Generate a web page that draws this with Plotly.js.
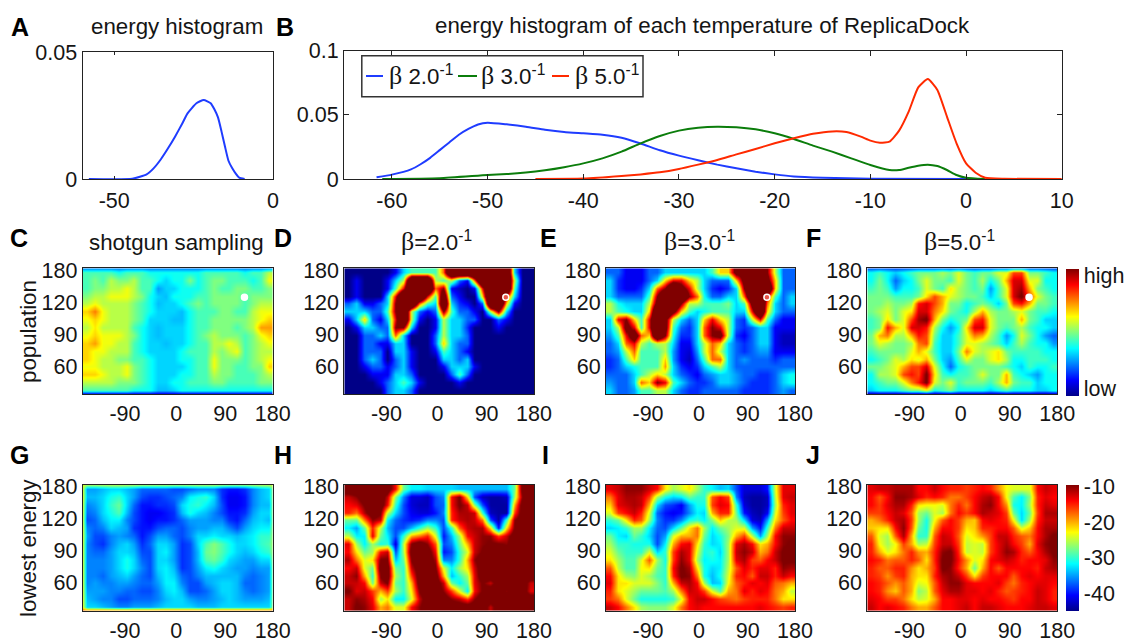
<!DOCTYPE html>
<html><head><meta charset="utf-8">
<script src="https://cdn.plot.ly/plotly-3.0.1.min.js"></script>
<style>html,body{margin:0;padding:0;background:#fff}</style></head>
<body><div id="chart" style="width:1126px;height:639px"></div>
<script>
const histA_x=[-58,-44.3,-39.8,-37.6,-35.3,-33,-30.8,-28.6,-26.9,-24.1,-21.8,-19.6,-18.4,-17.3,-16.2,-15.1,-14,-12.8,-11.7,-10.6,-8.9];
const histA_y=[0,.0001,.0018,.0042,.0078,.0122,.0168,.0218,.0259,.0299,.0312,.0299,.0274,.0243,.0188,.0128,.0072,.0042,.0021,.0005,0];
const beta2_x=[-61.6,-60,-58,-57,-56,-55,-54,-53,-52,-51,-50,-48,-46,-44,-42,-40,-38,-36,-34,-32,-30,-28,-26,-24,-22,-20,-18,-15,-10,0];
const beta2_y=[.0013,.0034,.0075,.0115,.0165,.0225,.0285,.0345,.039,.0425,.0439,.0426,.0408,.0384,.0366,.0356,.0345,.0322,.0277,.0224,.0182,.0146,.0112,.0083,.0057,.0036,.002,.001,.0002,0];
const beta3_x=[-61,-55,-50,-48,-46,-44,-42,-40,-38,-36,-34,-32,-30,-28,-26,-24,-22,-20,-18,-16,-14,-12,-10,-8,-7,-6,-5,-4,-3,-2,-1,0,2];
const beta3_y=[0,.0006,.0031,.0038,.005,.0068,.0092,.0122,.0161,.0213,.0278,.0335,.0377,.04,.0408,.0403,.0387,.0356,.0312,.026,.0213,.0161,.0109,.007,.007,.0088,.0104,.0112,.0101,.007,.0031,.001,0];
const beta5_x=[-45,-40,-36,-34,-32,-30,-28,-26,-24,-22,-20,-18,-16,-14,-12.5,-11,-10,-9,-8,-7,-6,-5,-4,-3,-2,-1,0,1,2,4,10];
const beta5_y=[0,.0003,.0023,.0036,.0052,.0078,.0112,.0148,.0192,.0234,.0278,.0317,.0352,.0371,.0366,.033,.0299,.0283,.0291,.0377,.0525,.0714,.0779,.0694,.0486,.0278,.0122,.0049,.001,.0002,0];

const gridX=[-181,-172.5,-157.5,-142.5,-127.5,-112.5,-97.5,-82.5,-67.5,-52.5,-37.5,-22.5,-7.5,7.5,22.5,37.5,52.5,67.5,82.5,97.5,112.5,127.5,142.5,157.5,172.5,181];
const gridY=[33.5,37.4,44.8,52.2,59.6,67,74.4,81.8,89.2,96.5,103.9,111.3,118.7,126.1,133.5,140.9,148.3,152.5];
const popTicksX=[-100,-3,90,180], popTickText=['-90','0','90','180'];
const lonTicksY=[60,90,120,150], lonTickText=['60','90','120','180'];
const marker_x=[126.5], marker_y=[124.8];

const popC=[
[4,4,4,4,3.5,4,4,4,3.5,3.5,3.5,3.5,3.5,3.5,3.5,4,4,4,4,4,3.5,4,4,5],
[4,4.5,4,5,4.5,4.5,5,4,4,3.5,3,3.5,3.5,4.5,3.5,4,4.5,4.5,4,4,4,3.5,4,5.5],
[4,4.5,4.5,5,5,5.5,5,4,4,2.5,3,3,3.5,3.5,3.5,4,4.5,4,4,4.5,4.5,4,4,4.5],
[4.5,5,5,5.5,5.5,5.5,5,4.5,3.5,3,2.8,3.5,3.5,3.5,4,4,4.5,4.5,4.5,4.5,4,4.5,4.5,4.5],
[5,5.5,5,5,5,5,4.5,4,3.5,2.8,3,3,3.5,4,4.5,4,4.5,4.5,4.5,4.5,4,4.5,5,5],
[6,6.8,5.5,5,5,5,4.5,4,3.5,3,3,3,2.8,3.5,4,4,4,4.5,4.5,4,4,5,5.5,5.5],
[5.5,6,5.5,5,5,5,4.5,4,3,3,3,2.8,2.8,3.5,4,4,4.5,4.5,4.5,4.5,4.5,5,5.5,6],
[5,5.8,5,5,5,5,4,3.5,3,2.8,3,3,3,3.5,4,4,4.5,4.5,4.5,4,4.5,5,6.5,6.5],
[5.5,6,5.5,5.5,5.5,5,4.5,3.5,3,2.8,3,3,3,3.5,4,4.5,5,4.5,4.5,4.5,4,4.5,5.5,6],
[6,6.5,5.5,5.5,5,5,4,3.5,3,3,2.8,3,3,3.5,4,4,5,5,5.5,5,4,4.5,5,5.5],
[6,5.5,5.5,5,5,5,4,3.5,3,3,3,3,3.5,4,4,4,5,4.5,5,5.5,4,4.5,5,5],
[6,5.5,5,5,4.5,4.5,4,4,3.5,3,3,3,3.5,3.5,4,4,5.5,4.5,4.5,4.5,4,4.5,5,5.5],
[5.5,5.5,5,5,5,5.5,4.5,4,3.5,3,3,3,3,3.5,4,4,5.5,4.5,4.5,4,4,4.5,4.5,6],
[6,6,5.5,5,5,5.5,4.5,4,3.5,3,3,3,3.5,3.5,4,4,5,4.5,4.5,4,4,4,4.5,5],
[5,5,5,5,4.5,4.5,4.5,4,3.5,3,3,3.5,3.5,4,4,4,4.5,4.5,4,4,4,4,4.5,4.5],
[4,4,4,4,4,4,3.5,3.5,3.5,2.8,2.8,3,3.5,3.5,3.5,3.5,3.5,3.5,3.5,3.5,3.5,3.5,3.5,3.5]];
const popD=[
[0,0,0,0,0,0,1,3,4,4,4,4,7,14,14,14,14,14,14,14,14,3,0,0],
[0,1,0,0,0,1,3,5,14,14,14,5,4,5,2,1,7,14,14,14,14,5,0,0],
[0,1,0,0,0,1,4,8,14,14,14,7,9,1,.5,0,1,8,14,14,14,4,0,0],
[0,1,0,0,0,3,8,14,14,14,8,4,12,2,1,0,0,6,14,14,8,3,0,0],
[2,3,1,1,2,3,9,14,14,7,4,3,14,3,1.5,1,0,2,14,14,6,1,0,0],
[3,3,3,2,2,4,9,14,5,2,1,2,9,4,2,2,1,0,5,9,3,0,0,0],
[1,3,6,2,1,3,8,14,5,1,0,1,5,3,3,2,2,0,0,2,1,0,0,0],
[0,1,3,3,2,2,9,9,3,0,0,1,5,3,3,1.5,0,0,0,1,0,0,0,0],
[0,0,2,2,3,2,7,3,0,0,0,2,5,3,3,2,0,0,0,0,0,0,0,0],
[0,0,2,2,1,1,3,3,0,0,0,2,6,3,2,2,0,0,0,0,0,0,0,0],
[0,0,2,2,2,0,3,3,1,0,0,1,4,3,2,1,0,0,0,0,0,0,0,0],
[0,0,2,3,2,0,2,3,1,0,0,0,3,3,2,3,0,0,0,0,0,0,0,0],
[0,0,1,2,2,1,2,3,1,0,0,0,1,3,3,3,1,0,0,0,0,0,0,0],
[0,0,0,1,1,1,3,3,2,0,0,0,0,2,4,2,0,0,0,0,0,0,0,0],
[0,0,0,0,1,2,3,4,3,1,0,0,0,0,1,0,0,0,0,0,0,0,0,0],
[0,0,0,0,0,2,3,3,2,0,0,0,0,0,0,0,0,0,0,0,0,0,0,0]];
const popE=[
[2,2,1,1,1,2,2,3,3,3,3,3,3,4,6,6,10,10,10,10,9,5,2,2],
[3,1.5,1,1,1,2,3,6,8,8,6,5,3,2,2,2,6,10,10,10,10,6,2,2],
[3,1.5,1,1,1.5,3,7,9,13,10,8,5,3,1.5,1,1.5,3,9,13,13,13,6,2,2],
[3,2,2,2,2,4,9,13,13,13,9,7,3.5,2,2,3,3,7,13,13,8,4,2,3],
[5,3.5,3,3,3,5,10,13,13,9,5,5,4,4,4,4.5,3,4,10,13,7,3,2,3],
[5,4,3.5,3,3,6,13,13,10,6,4,3,3.5,4,4,4,3,3,8,13,6,3,2,2],
[3,8,9,6,4,8,13,10,5,3,2,3,6,8,6,5,2,1.5,5,8,4,2,1,1],
[3,5,10,8,4,8,13,10,4,2,1.5,3,7,9,8,5,2,1.5,2,3,3,1,1,1],
[2.5,4,8,11,7,6,13,9,3.5,1.5,1.5,3,7,9,10,5,1.5,1,2,3,3,1,.5,.5],
[2,3,7,8,5,4,5,5,3,1,1,3,5,7,6,3,2,1.5,2,3,3,1,.5,.5],
[2,2.5,5,7,4,4,4,5,2.5,1,.7,2.5,5,7,5,3,2,1.5,2,2.5,2.5,1,1,1],
[1.5,2,4,6,4,4,4,6,2.5,1,.5,2,4,7,7,3,2,2.5,2,2,2,1.5,2,2],
[1.5,2,3,3.5,4,4,4,6.5,3,1.5,1,1.5,3,4,5,3,2,2,2,2,2,2,2,2],
[2,2,2,3,4,5,6,5,3,2,1.5,1,2,2.5,3,3,2.5,2,2,1.5,1.5,2,3,3.5],
[2.5,2,2,3,7,6,9,8,4,3,2,1.5,1.5,2,3,3,2.5,2,1.5,1.5,1.5,2,3,3.5],
[3,2,2,2.5,4,4,5,5,3,2,1.5,1.5,2,2,2,2,2,1.5,1.5,1.5,1.5,2,2.5,2]];
const popF=[
[3,3.5,3,2.5,3,3.5,4,4,4,4.5,4,5,4,3.5,4,4,5,5,7,7,4,4,3.5,3],
[3,4,3,1.5,2.5,3,4,5,4,4,3.5,5,4,3.5,4.5,3,4,6,8,8,5,5,3,3],
[3.5,4,3.5,2,3,3,3.5,5,4,3.5,5.5,4.5,4,3.5,4,2,3.5,5,8,8.5,6,4,3.5,3],
[4,4,4,3.5,3.5,3.5,4,5.5,7,6,5,4.5,4,4,3.5,2.5,3.5,5,8,9,7,5,4,3.5],
[4,4,4.5,4,4,4.5,7.5,8,7,6,4,4,3,3.5,4,3.5,2.5,4,7,7.5,6,4,4,3.5],
[4,4.5,5,4,5,5.5,8,8,6.5,5.5,4,3.5,3,4.5,6,4.5,4,4,4.5,5,4,3.5,3.5,3],
[3.5,4,5.5,4,5,7,8.5,9,6,4,3,3.5,4,7,7.5,5,4,4,4,6,4,3.5,2.5,2.5],
[3.5,4,7.5,6,5,8,8,7.5,4.5,3,2,3,5.5,8,8,5,4,3.5,4,4.5,3.5,3,3,2.5],
[4,6,6.5,4.5,4.5,6,7.5,7,4,2.5,2.5,3.5,5,6.5,6,4.5,3.5,2,3,5,4,3,2,1.5],
[4,5,4.5,4,4,4.5,6.5,7,3.5,2.5,2.5,3.5,5,5,4.5,4,3.5,2.5,3.5,4.5,3.5,3,3,2],
[3.5,4,4,4,4,5,6,5,3.5,2.5,2.5,4,6.5,5,4.5,5,5.5,4,3.5,3.5,3.5,3.5,3,3],
[3,3.5,4,5,4.5,5.5,5,6,4,2.5,2,3.5,5,4,4,5,5.5,4.5,3,3,3.5,3.5,3.5,3],
[4,4,4.5,5,6,7,7,8,5,3,1.5,3,3.5,4,4,4,4,3.5,3,2.5,3.5,3,3,3.5],
[3,4.5,4.5,5,7,7.5,7,9,5.5,3.5,3,3.5,3.5,4,5,4,4,6,3.5,3,2.5,2,3,3],
[3,3.5,4,4,5,6.5,7.5,9,5,4,5,3.5,4,4,4,3.5,4.5,6,4,3.5,3.5,2.5,3,3],
[2.5,3,3,3,3.5,4,4,5,3,3.5,4,3,3,3,3,2.5,3,3.5,3,3,3,2.5,2.5,3]];
const energyG=[
[-35,-35,-34,-33,-33,-34,-35,-37,-37,-37,-37,-38,-38,-37,-36,-36,-36,-39,-40,-40,-39,-36,-34,-33],
[-34,-34,-33,-31,-30,-33,-35,-38,-39,-39,-38,-37,-36,-32,-31,-30,-33,-39,-41,-41,-40,-36,-34,-33],
[-36,-35,-33,-30,-28,-33,-37,-40,-40,-39,-39,-38,-33,-31,-30,-32,-34,-38,-41,-41,-40,-36,-34,-34],
[-37,-36,-33,-31,-29,-34,-38,-40,-41,-41,-40,-39,-34,-31,-33,-34,-36,-38,-40,-40,-39,-35,-33,-33],
[-38,-37,-34,-32,-32,-36,-38,-40,-41,-40,-40,-39,-37,-35,-35,-35,-36,-36,-39,-40,-37,-34,-33,-34],
[-36,-37,-36,-33,-34,-35,-39,-40,-40,-38,-37,-37,-38,-36,-35,-35,-34,-34,-36,-38,-35,-33,-32,-32],
[-35,-38,-38,-36,-35,-36,-37,-40,-38,-35,-35,-37,-38,-36,-33,-33,-32,-33,-33,-34,-33,-32,-30,-30],
[-36,-38,-39,-36,-34,-33,-35,-39,-37,-33,-33,-35,-39,-38,-33,-29,-27,-29,-31,-33,-33,-32,-30,-29],
[-36,-37,-37,-35,-33,-33,-34,-38,-38,-33,-32,-35,-39,-38,-34,-28,-27,-29,-31,-33,-34,-33,-31,-30],
[-36,-36,-36,-35,-33,-31,-33,-37,-38,-33,-33,-35,-39,-38,-34,-29,-28,-30,-33,-34,-35,-35,-33,-33],
[-36,-36,-36,-35,-33,-31,-33,-36,-38,-33,-32,-34,-39,-38,-35,-32,-31,-33,-34,-35,-35,-36,-35,-35],
[-36,-36,-37,-35,-34,-33,-35,-37,-38,-34,-32,-33,-37,-38,-36,-34,-34,-34,-34,-34,-36,-37,-36,-35],
[-36,-35,-36,-36,-35,-35,-36,-37,-37,-35,-32,-32,-36,-38,-38,-35,-34,-33,-33,-34,-37,-37,-36,-35],
[-35,-35,-35,-36,-36,-37,-37,-38,-38,-36,-33,-32,-34,-38,-38,-37,-35,-33,-33,-34,-36,-37,-36,-35],
[-34,-35,-36,-36,-38,-38,-37,-37,-37,-36,-34,-33,-33,-35,-36,-36,-35,-34,-33,-34,-35,-35,-35,-34],
[-33,-33,-34,-35,-36,-36,-35,-35,-35,-34,-33,-33,-33,-33,-34,-34,-34,-33,-33,-33,-33,-33,-33,-33]];
const energyH=[
[-6,-6,-6,-6,-6,-6,-14,-28,-32,-32,-33,-33,-33,-33,-34,-34,-34,-34,-34,-34,-34,-28,-6,-6],
[-12,-10,-6,-6,-6,-12,-27,-36,-42,-42,-43,-38,-36,-14,-9,-22,-38,-43,-44,-44,-43,-26,-9,-6],
[-14,-13,-9,-6,-6,-14,-30,-38,-42,-43,-43,-38,-37,-14,-9,-12,-27,-38,-44,-44,-44,-20,-6,-6],
[-15,-18,-11,-6,-9,-25,-33,-38,-41,-42,-42,-40,-36,-15,-11,-11,-12,-30,-43,-44,-44,-16,-6,-6],
[-28,-28,-18,-10,-12,-32,-37,-39,-40,-39,-36,-36,-38,-15,-12,-11,-12,-18,-38,-44,-30,-10,-6,-6],
[-32,-35,-28,-15,-25,-34,-38,-38,-34,-30,-26,-30,-38,-30,-17,-12,-11,-11,-22,-40,-22,-9,-6,-6],
[-25,-32,-32,-13,-28,-32,-38,-30,-20,-18,-15,-24,-40,-34,-26,-14,-12,-10,-10,-16,-12,-6,-6,-6],
[-13,-26,-32,-26,-31,-30,-42,-25,-9,-6,-10,-17,-38,-36,-28,-20,-12,-10,-9,-9,-10,-6,-6,-6],
[-14,-22,-28,-26,-14,-12,-38,-26,-6,-6,-6,-14,-40,-38,-30,-24,-12,-9,-6,-6,-6,-6,-6,-6],
[-11,-18,-24,-22,-9,-9,-34,-28,-9,-6,-6,-11,-36,-36,-30,-20,-10,-6,-6,-6,-6,-6,-6,-6],
[-14,-12,-24,-28,-6,-6,-28,-30,-12,-6,-6,-9,-24,-32,-26,-22,-12,-6,-6,-6,-6,-6,-6,-6],
[-12,-10,-20,-30,-9,-6,-26,-30,-16,-6,-6,-6,-20,-34,-30,-26,-13,-6,-6,-6,-6,-6,-6,-6],
[-12,-12,-14,-28,-12,-9,-28,-30,-20,-6,-6,-6,-12,-28,-32,-28,-13,-9,-12,-6,-6,-6,-6,-12],
[-9,-13,-12,-16,-20,-16,-26,-30,-22,-9,-6,-6,-10,-16,-24,-32,-14,-9,-6,-6,-10,-6,-6,-13],
[-12,-10,-11,-14,-26,-22,-32,-32,-24,-12,-6,-6,-6,-10,-12,-16,-10,-6,-6,-6,-6,-6,-6,-6],
[-12,-9,-10,-13,-20,-18,-24,-24,-14,-10,-6,-6,-6,-6,-6,-6,-6,-6,-12,-6,-6,-6,-6,-6]];
const energyI=[
[-13,-12,-10,-10,-10,-12,-14,-22,-26,-24,-22,-26,-30,-32,-34,-33,-38,-42,-42,-42,-40,-24,-13,-13],
[-18,-13,-11,-11,-12,-16,-26,-31,-33,-32,-28,-30,-30,-17,-14,-16,-36,-43,-44,-44,-43,-25,-13,-12],
[-21,-13,-12,-11,-12,-20,-33,-38,-39,-41,-35,-31,-31,-16,-13,-14,-30,-42,-44,-44,-43,-26,-15,-13],
[-24,-16,-14,-12,-15,-24,-37,-40,-41,-40,-36,-32,-33,-20,-15,-15,-28,-40,-43,-44,-41,-24,-16,-13],
[-30,-28,-22,-15,-17,-26,-36,-39,-39,-36,-31,-30,-32,-27,-21,-25,-26,-33,-42,-43,-35,-22,-17,-14],
[-33,-32,-30,-26,-26,-32,-37,-38,-33,-28,-22,-18,-26,-32,-28,-26,-24,-24,-35,-40,-30,-18,-12,-12],
[-28,-32,-33,-28,-30,-33,-38,-35,-24,-20,-20,-18,-28,-33,-31,-27,-20,-16,-25,-35,-26,-14,-10,-10],
[-26,-30,-30,-31,-31,-31,-38,-32,-20,-14,-13,-22,-30,-33,-32,-26,-13,-11,-14,-22,-20,-14,-10,-9],
[-24,-28,-30,-30,-30,-24,-33,-30,-16,-11,-13,-24,-31,-30,-33,-26,-12,-10,-12,-20,-18,-12,-9,-9],
[-22,-26,-29,-29,-24,-17,-26,-31,-16,-10,-13,-26,-32,-31,-32,-26,-13,-11,-16,-17,-14,-12,-9,-9],
[-17,-25,-29,-29,-23,-22,-28,-30,-14,-9,-11,-22,-31,-33,-32,-25,-17,-13,-15,-13,-13,-15,-10,-11],
[-14,-22,-26,-27,-24,-26,-29,-30,-15,-9,-10,-18,-31,-34,-31,-24,-15,-14,-17,-12,-12,-15,-12,-14],
[-13,-22,-22,-24,-24,-24,-27,-30,-20,-12,-11,-14,-26,-34,-33,-23,-17,-15,-13,-14,-13,-17,-18,-20],
[-15,-22,-24,-26,-28,-28,-28,-29,-26,-18,-12,-13,-16,-24,-29,-20,-18,-13,-15,-13,-14,-18,-20,-25],
[-16,-18,-24,-28,-31,-31,-31,-31,-30,-24,-14,-12,-12,-14,-16,-17,-18,-16,-15,-15,-15,-18,-22,-22],
[-12,-14,-18,-22,-26,-27,-27,-27,-24,-18,-14,-13,-14,-14,-14,-14,-14,-14,-14,-13,-14,-15,-16,-15]];
const energyJ=[
[-13,-12,-12,-11,-11,-11,-14,-14,-12,-14,-15,-15,-16,-15,-14,-15,-19,-23,-24,-24,-24,-14,-12,-13],
[-14,-17,-14,-10,-10,-11,-13,-15,-14,-15,-18,-18,-16,-14,-12,-11,-14,-23,-29,-32,-27,-15,-13,-14],
[-14,-16,-13,-11,-11,-15,-22,-23,-23,-24,-18,-15,-18,-14,-11,-10,-14,-19,-31,-32,-26,-15,-12,-13],
[-16,-16,-14,-12,-13,-17,-26,-28,-24,-26,-18,-14,-16,-14,-11,-12,-13,-16,-28,-33,-28,-16,-11,-11],
[-20,-18,-15,-12,-11,-16,-26,-31,-23,-17,-14,-16,-20,-21,-14,-13,-14,-15,-23,-33,-26,-15,-12,-12],
[-21,-22,-22,-14,-10,-17,-28,-31,-20,-14,-14,-16,-22,-21,-15,-15,-14,-14,-17,-24,-21,-14,-11,-11],
[-17,-24,-26,-17,-11,-20,-30,-30,-17,-12,-13,-17,-24,-22,-19,-16,-12,-12,-15,-17,-18,-14,-11,-9],
[-15,-23,-26,-23,-16,-20,-26,-25,-16,-12,-12,-16,-25,-24,-25,-16,-13,-11,-14,-16,-20,-13,-10,-9],
[-15,-20,-24,-22,-18,-15,-19,-20,-15,-10,-9,-15,-25,-24,-25,-16,-13,-10,-11,-15,-17,-14,-11,-9],
[-14,-15,-18,-17,-17,-15,-17,-22,-15,-9,-9,-14,-19,-24,-22,-14,-13,-12,-13,-15,-14,-14,-13,-10],
[-15,-17,-17,-15,-15,-19,-22,-20,-16,-9,-10,-15,-20,-28,-20,-14,-17,-14,-14,-14,-14,-15,-12,-11],
[-15,-16,-19,-16,-15,-20,-22,-22,-15,-11,-10,-12,-16,-22,-16,-14,-14,-14,-17,-14,-13,-14,-13,-13],
[-14,-15,-17,-19,-17,-20,-24,-23,-17,-12,-10,-10,-13,-14,-14,-14,-13,-16,-18,-15,-14,-13,-13,-14],
[-14,-15,-19,-21,-17,-20,-27,-25,-17,-13,-11,-11,-13,-13,-14,-13,-15,-17,-16,-15,-14,-12,-13,-15],
[-13,-14,-16,-16,-18,-22,-25,-24,-20,-14,-14,-13,-13,-14,-13,-14,-14,-15,-16,-14,-14,-12,-13,-15],
[-12,-14,-13,-14,-15,-18,-20,-20,-17,-14,-14,-13,-12,-14,-12,-12,-13,-14,-14,-14,-13,-12,-12,-13]];

const W=1126,H=639;
const jet=[[0,'rgb(0,0,135)'],[.125,'rgb(0,0,255)'],[.375,'rgb(0,255,255)'],[.625,'rgb(255,255,0)'],[.875,'rgb(255,0,0)'],[1,'rgb(128,0,0)']];
const font='"Liberation Sans",Arial,sans-serif', ink='#151515', FS=22.3, TS=21.5;
const framed=(rows,e={})=>{
  const body=rows.map(r=>[e.left??r[0],...r,e.right??r[r.length-1]]);
  const t=body[0].map(v=>e.top??v), b=body[body.length-1].map(v=>e.bottom??v);
  return [b,...body.slice().reverse(),t];
};
const dom=(a,b,s)=>[a/s,b/s], domY=(top,bot)=>[1-bot/H,1-top/H];
const beta='<span style="font-family:\'Liberation Serif\';font-size:26px">β</span>';
const blue='#1f3cff',green='#0b7d0b',red='#ff2a00';
const line=c=>({color:c,width:2,shape:'spline',smoothing:.5});
const traces=[
 {x:histA_x,y:histA_y,mode:'lines',line:line(blue),xaxis:'x',yaxis:'y'},
 {x:beta2_x,y:beta2_y,mode:'lines',name:'β 2.0⁻¹',line:line(blue),xaxis:'x2',yaxis:'y2'},
 {x:beta3_x,y:beta3_y,mode:'lines',name:'β 3.0⁻¹',line:line(green),xaxis:'x2',yaxis:'y2'},
 {x:beta5_x,y:beta5_y,mode:'lines',name:'β 5.0⁻¹',line:line(red),xaxis:'x2',yaxis:'y2'}
];
const heat=(z,n,zmin,zmax,cb)=>traces.push({type:'heatmap',x:gridX,y:gridY,z,xaxis:'x'+n,yaxis:'y'+n,colorscale:jet,zmin,zmax,zsmooth:'best',showscale:!!cb,colorbar:cb,hoverinfo:'skip'});
const cbBase={xref:'paper',yref:'paper',xanchor:'left',yanchor:'middle',xpad:0,ypad:0,thickness:13,thicknessmode:'pixels',lenmode:'pixels',outlinewidth:0,ticks:'',tickfont:{family:font,size:TS,color:ink}};
heat(framed(popC,{bottom:.5,top:2}),3,0,9);
heat(framed(popD),4,0,9);
heat(framed(popE),5,0,9);
heat(framed(popF,{bottom:-.6,top:1}),6,-.6,8.8,{...cbBase,x:1066/W,y:1-332.5/H,len:127,tickmode:'array',tickvals:[8.35,-.01],ticktext:['high','low']});
heat(framed(energyG,{top:-24,bottom:-16,left:-22,right:-25}),7,-45,-9.5);
heat(framed(energyH),8,-45,-9.5);
heat(framed(energyI),9,-45,-9.5);
heat(framed(energyJ),10,-45,-9.5,{...cbBase,x:1066/W,y:1-548/H,len:126,tickmode:'array',tickvals:[-10,-20,-30,-40],ticktext:['-10','-20','-30','-40']});
const mk=(n,fill)=>traces.push({x:marker_x,y:marker_y,mode:'markers',xaxis:'x'+n,yaxis:'y'+n,marker:{size:6,color:fill,line:{color:'#fff',width:1.5}}});
mk(3,'#fff');mk(4,'#e8554a');mk(5,'#e8554a');mk(6,'#fff');

const base={showgrid:false,zeroline:false,showline:true,linecolor:'#222',linewidth:1,mirror:true,tickfont:{family:font,size:TS,color:ink},fixedrange:true};
const lay={width:W,height:H,margin:{l:0,r:0,t:0,b:0},paper_bgcolor:'#fff',plot_bgcolor:'#fff',showlegend:false,
 xaxis:{...base,domain:dom(82.5,272.9,W),range:[-60,0],tickmode:'array',tickvals:[-50,0],ticktext:['-50','0'],ticks:'inside',ticklen:3,tickcolor:'#222',mirror:'allticks',ticklabelstandoff:2},
 yaxis:{...base,domain:domY(52.3,179),range:[0,.05],tickmode:'array',tickvals:[0,.05],ticktext:['0','0.05'],ticks:'',anchor:'x'},
 xaxis2:{...base,domain:dom(344,1061.8,W),range:[-65,10],tickmode:'array',tickvals:[-60,-50,-40,-30,-20,-10,0,10],ticktext:['-60','-50','-40','-30','-20','-10','0','10'],ticks:'inside',ticklen:5,tickcolor:'#222',mirror:'allticks',ticklabelstandoff:2,anchor:'y2'},
 yaxis2:{...base,domain:domY(50.7,179),range:[0,.1],tickmode:'array',tickvals:[0,.05,.1],ticktext:['0','0.05','0.1'],ticks:'inside',ticklen:5,tickcolor:'#222',mirror:'allticks',anchor:'x2'}
};
const cols=[[82.7,272.7],[344.3,534],[606,795],[867.3,1057.3]];
const rowsY=[[268.3,394.3],[484.7,610.7]];
[0,1].forEach(r=>cols.forEach((c,i)=>{
  const n=3+r*4+i;
  lay['xaxis'+n]={...base,domain:dom(c[0],c[1],W),range:[-180,180],tickmode:'array',tickvals:popTicksX,ticktext:popTickText,ticks:'',ticklabelstandoff:0,anchor:'y'+n};
  lay['yaxis'+n]={...base,domain:domY(rowsY[r][0],rowsY[r][1]),range:[33.75,152],tickmode:'array',tickvals:lonTicksY,ticktext:lonTickText,ticks:'',anchor:'x'+n};
}));
const ann=(text,x,y,o={})=>({text,x:x/W,y:1-y/H,xref:'paper',yref:'paper',showarrow:false,xanchor:'center',yanchor:'middle',font:{family:font,size:FS,color:ink},...o});
const bold={font:{family:font,size:25,color:'#000'}};
const legendLabels=['2.0','3.0','5.0'];
const legendColors=[blue,green,red];
const legendKeys=[[366,383],[458,477],[552,569]];
const legendText=[387,478.5,572.5];
lay.shapes=[{type:'rect',xref:'paper',yref:'paper',x0:361.8/W,x1:643/W,y0:1-55.7/H,y1:1-96.7/H,line:{color:'#333',width:1.5},fillcolor:'#fff',layer:'above'},
 ...legendKeys.map((k,i)=>({type:'line',xref:'paper',yref:'paper',x0:k[0]/W,x1:k[1]/W,y0:1-76/H,y1:1-76/H,line:{color:legendColors[i],width:2},layer:'above'}))];
lay.annotations=[
 ann('<b>A</b>',19.5,27,bold),ann('<b>B</b>',284.5,27,bold),
 ann('<b>C</b>',19,238,bold),ann('<b>D</b>',283,238,bold),ann('<b>E</b>',548,238,bold),ann('<b>F</b>',813,238,bold),
 ann('<b>G</b>',19,455,bold),ann('<b>H</b>',283,455,bold),ann('<b>I</b>',545,455,bold),ann('<b>J</b>',813,455,bold),
 ann('energy histogram',176.8,27),
 ann('energy histogram of each temperature of ReplicaDock',702,25),
 ann('shotgun sampling',176.7,242.7),
 ann(beta+'=2.0<sup>-1</sup>',436.7,241),ann(beta+'=3.0<sup>-1</sup>',699.5,241),ann(beta+'=5.0<sup>-1</sup>',959.5,241),
 ann('population',29,332,{textangle:-90}),ann('lowest energy',28,548,{textangle:-90}),
 ...legendLabels.map((t,i)=>ann(beta+' '+t+'<sup>-1</sup>',legendText[i],76,{xanchor:'left'}))
];
Plotly.newPlot('chart',traces,lay,{displayModeBar:false,staticPlot:true});
</script></body></html>
